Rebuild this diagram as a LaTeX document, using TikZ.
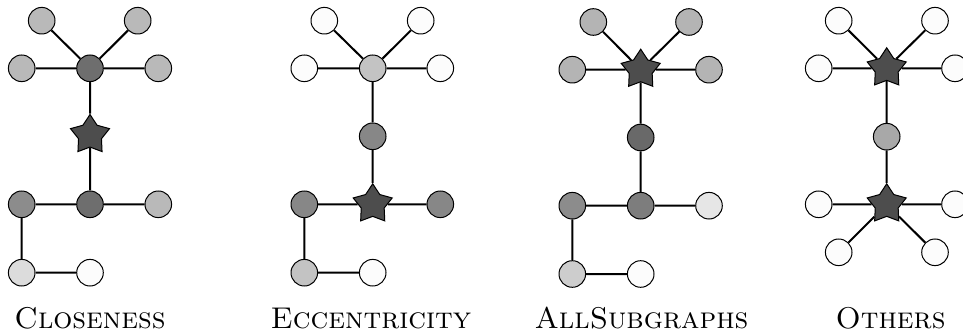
\documentclass[tikz,border=0pt]{standalone}
\usetikzlibrary{shapes.geometric}
\definecolor{cw}{RGB}{252,252,252}
\definecolor{cstar}{RGB}{77,77,77}
\definecolor{ca}{RGB}{185,185,185}
\definecolor{cb}{RGB}{110,110,110}
\definecolor{cc}{RGB}{140,140,140}
\definecolor{cd}{RGB}{220,220,220}
\definecolor{ce}{RGB}{195,195,195}
\definecolor{cf}{RGB}{135,135,135}
\definecolor{cg}{RGB}{180,180,180}
\definecolor{ch}{RGB}{105,105,105}
\definecolor{ci}{RGB}{125,125,125}
\definecolor{cj}{RGB}{230,230,230}
\definecolor{ck}{RGB}{205,205,205}
\definecolor{cl}{RGB}{168,168,168}
\tikzset{
  vtx/.style={circle,draw=black,line width=0.5pt,minimum size=13.3pt,inner sep=0pt},
  hubstar/.style={star,star points=5,star point ratio=1.7,draw=black,line width=0.5pt,fill=cstar,minimum size=20.5pt,inner sep=0pt},
  edge/.style={line width=1pt},
  lbl/.style={font=\fontsize{15}{17}\selectfont\scshape,anchor=base}
}
\begin{document}
\begin{tikzpicture}[x=0.5pt,y=-0.5pt]
\useasboundingbox (0,0) rectangle (963,336);
% ---------- Graph 1: Closeness ----------
\node[vtx,fill=ca] (a1) at (41.7,20.7) {};
\node[vtx,fill=ca] (a2) at (137.7,20.7) {};
\node[vtx,fill=ca] (a3) at (21.7,68.3) {};
\node[vtx,fill=cb] (a4) at (90,68.3) {};
\node[vtx,fill=ca] (a5) at (158.3,68.3) {};
\node[hubstar] (a6) at (90,135) {};
\node[vtx,fill=cc] (a7) at (21.7,204.3) {};
\node[vtx,fill=cb] (a8) at (90,204.3) {};
\node[vtx,fill=ca] (a9) at (158.3,204.3) {};
\node[vtx,fill=cd] (a10) at (21.7,272.7) {};
\node[vtx,fill=cw] (a11) at (90,272.7) {};
\draw[edge] (a1)--(a4) (a2)--(a4) (a3)--(a4) (a4)--(a5) (a4)--(a6) (a6)--(a8)
  (a7)--(a8) (a8)--(a9) (a7)--(a10) (a10)--(a11);
\node[lbl] (la) at (90,328) {Closeness};
% ---------- Graph 2: Eccentricity ----------
\node[vtx,fill=cw] (b1) at (324.3,20.7) {};
\node[vtx,fill=cw] (b2) at (420.7,20.7) {};
\node[vtx,fill=cw] (b3) at (304.3,68.3) {};
\node[vtx,fill=ce] (b4) at (372.7,68.3) {};
\node[vtx,fill=cw] (b5) at (440.3,68.3) {};
\node[vtx,fill=cf] (b6) at (372.7,136.3) {};
\node[vtx,fill=cf] (b7) at (304.3,204.3) {};
\node[hubstar] (b8) at (372.7,204.3) {};
\node[vtx,fill=cf] (b9) at (440.3,204.3) {};
\node[vtx,fill=ce] (b10) at (304.3,272.7) {};
\node[vtx,fill=cw] (b11) at (372.7,272.7) {};
\draw[edge] (b1)--(b4) (b2)--(b4) (b3)--(b4) (b4)--(b5) (b4)--(b6) (b6)--(b8)
  (b7)--(b8) (b8)--(b9) (b7)--(b10) (b10)--(b11);
\node[lbl] (lb) at (371,328) {Eccentricity};
% ---------- Graph 3: AllSubgraphs ----------
\node[vtx,fill=cg] (c1) at (593.3,22) {};
\node[vtx,fill=cg] (c2) at (689,22) {};
\node[vtx,fill=cg] (c3) at (572.3,69.7) {};
\node[hubstar] (c4) at (640.7,69.7) {};
\node[vtx,fill=cg] (c5) at (709,69.7) {};
\node[vtx,fill=ch] (c6) at (640.7,137.5) {};
\node[vtx,fill=cc] (c7) at (572.3,205.7) {};
\node[vtx,fill=ci] (c8) at (640.7,205.7) {};
\node[vtx,fill=cj] (c9) at (709,205.7) {};
\node[vtx,fill=ck] (c10) at (572.3,274) {};
\node[vtx,fill=cw] (c11) at (640.7,274) {};
\draw[edge] (c1)--(c4) (c2)--(c4) (c3)--(c4) (c4)--(c5) (c4)--(c6) (c6)--(c8)
  (c7)--(c8) (c8)--(c9) (c7)--(c10) (c10)--(c11);
\node[lbl] (lc) at (641.5,328) {AllSubgraphs};
% ---------- Graph 4: Others ----------
\node[vtx,fill=cw] (d1) at (838.7,20.7) {};
\node[vtx,fill=cw] (d2) at (935,20.7) {};
\node[vtx,fill=cw] (d3) at (818.7,68.3) {};
\node[hubstar] (d4) at (886.7,68.3) {};
\node[vtx,fill=cw] (d5) at (955,68.3) {};
\node[vtx,fill=cl] (d6) at (886.7,136.7) {};
\node[hubstar] (d7) at (886.7,204.3) {};
\node[vtx,fill=cw] (d8) at (818.7,204.3) {};
\node[vtx,fill=cw] (d9) at (955,204.3) {};
\node[vtx,fill=cw] (d10) at (838.7,252.3) {};
\node[vtx,fill=cw] (d11) at (935,252.3) {};
\draw[edge] (d1)--(d4) (d2)--(d4) (d3)--(d4) (d4)--(d5) (d4)--(d6) (d6)--(d7)
  (d8)--(d7) (d7)--(d9) (d7)--(d10) (d7)--(d11);
\node[lbl] (ld) at (890.5,328) {Others};
\end{tikzpicture}
\end{document}
